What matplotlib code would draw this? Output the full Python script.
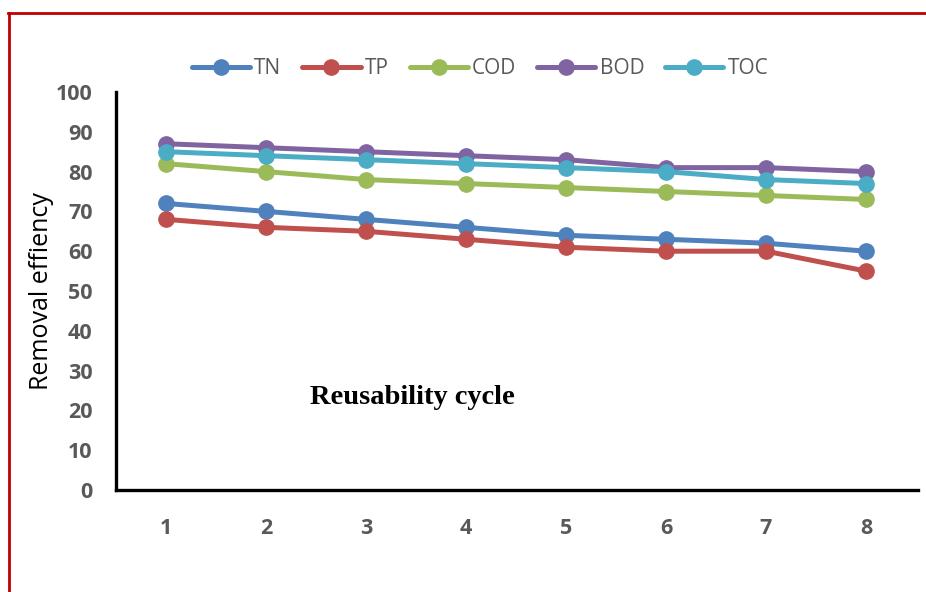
import matplotlib
matplotlib.use('Agg')
import matplotlib.pyplot as plt
from matplotlib.lines import Line2D

# ciclos de reutilizacion
ciclos = [1, 2, 3, 4, 5, 6, 7, 8]

# eficiencia de remocion (%)
tn = [72, 70, 68, 66, 64, 63, 62, 60]
tp = [68, 66, 65, 63, 61, 60, 60, 55]
cod = [82, 80, 78, 77, 76, 75, 74, 73]
bod = [87, 86, 85, 84, 83, 81, 81, 80]
toc = [85, 84, 83, 82, 81, 80, 78, 77]

series = [('TN', tn, '#4F81BD'), ('TP', tp, '#C0504D'), ('COD', cod, '#9BBB59'),
          ('BOD', bod, '#8064A2'), ('TOC', toc, '#4BACC6')]

plt.rcParams['font.family'] = ['Open Sans', 'DejaVu Sans']

W, H = 926, 592
fig = plt.figure(figsize=(W / 100, H / 100), dpi=100)
ax = fig.add_axes([116 / W, 1 - 490 / H, (918 - 116) / W, (490 - 92) / H])

for nombre, valores, color in series:
    ax.plot(ciclos, valores, color=color, linewidth=3.6, marker='o',
            markersize=11, label=nombre, solid_capstyle='round')

ax.set_xlim(0.5, 8.52)
ax.set_ylim(0, 100)
ax.set_xticks(ciclos)
ax.set_yticks(range(0, 101, 10))
ax.tick_params(length=0, labelsize=15.5, labelcolor='#595959')
ax.tick_params(axis='y', pad=17)
ax.tick_params(axis='x', pad=20)
for lbl in ax.get_xticklabels() + ax.get_yticklabels():
    lbl.set_fontweight('bold')

for lado in ['top', 'right']:
    ax.spines[lado].set_visible(False)
for lado in ['left', 'bottom']:
    ax.spines[lado].set_linewidth(2.4)
    ax.spines[lado].set_color('black')

ax.set_ylabel('Removal effiency', fontsize=18, color='black', labelpad=1)
ax.text(412, H - 397, 'Reusability cycle', transform=None, fontsize=20.5,
        fontweight='bold', family='Liberation Serif', ha='center', va='center')

leg = fig.legend(loc='center', bbox_to_anchor=(480 / W, 1 - 69 / H), ncol=5,
                 frameon=False, fontsize=15, handlelength=2.8, columnspacing=1.0,
                 handletextpad=0.2)
for t in leg.get_texts():
    t.set_color('#595959')

# marco rojo
fig.add_artist(Line2D([8 / W, 1], [1 - 13 / H, 1 - 13 / H], transform=fig.transFigure,
                      color='#C00000', linewidth=2))
fig.add_artist(Line2D([9 / W, 9 / W], [0, 1 - 13 / H], transform=fig.transFigure,
                      color='#C00000', linewidth=2))

fig.savefig('out.png', dpi=100)
